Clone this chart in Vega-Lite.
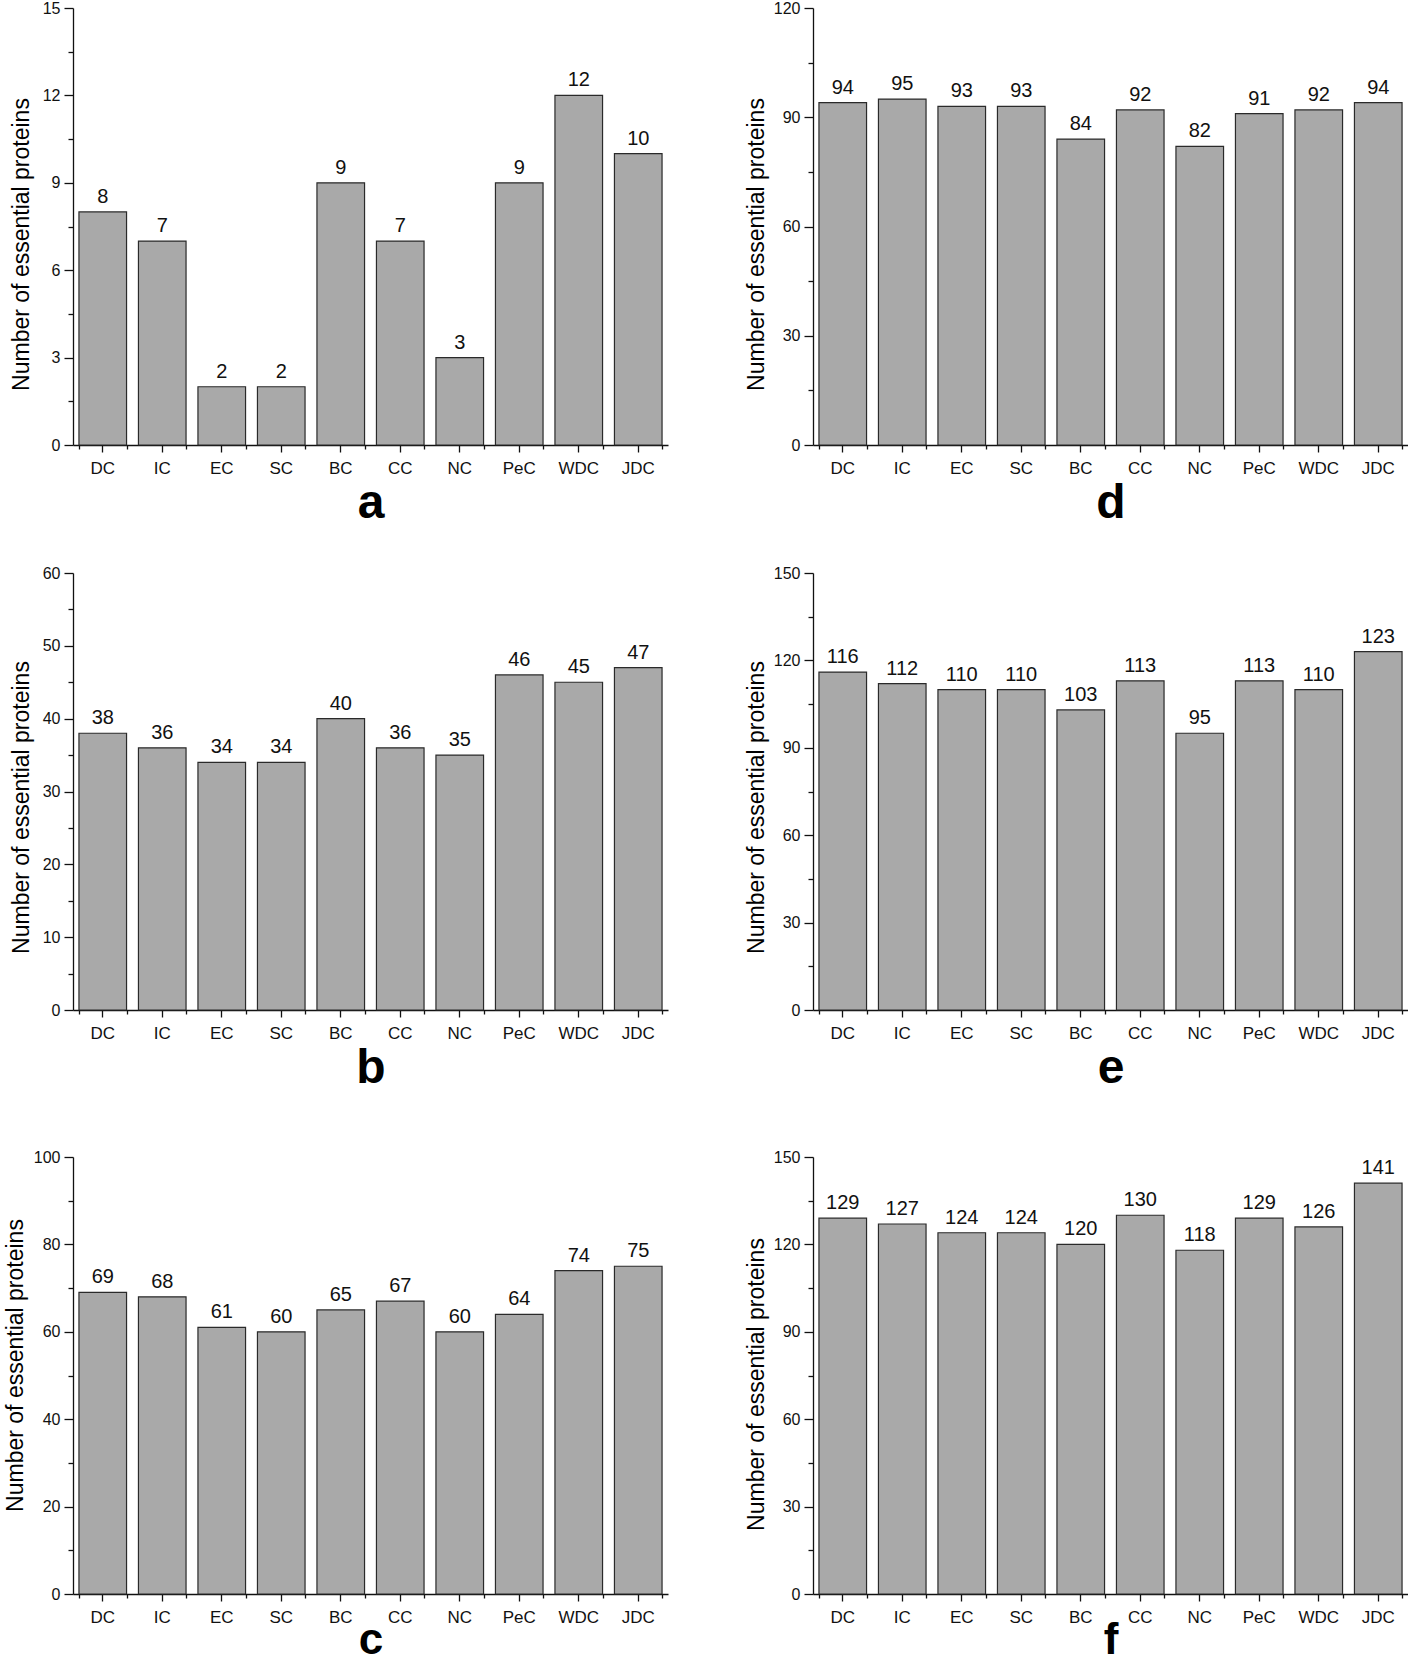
{
  "$schema": "https://vega.github.io/schema/vega-lite/v6.json",
  "padding": {"left": 4, "top": 0, "right": 0, "bottom": 0},
  "datasets": {
    "counts": [
      {"panel": "a", "method": "DC", "count": 8}, {"panel": "a", "method": "IC", "count": 7}, {"panel": "a", "method": "EC", "count": 2}, {"panel": "a", "method": "SC", "count": 2}, {"panel": "a", "method": "BC", "count": 9}, {"panel": "a", "method": "CC", "count": 7}, {"panel": "a", "method": "NC", "count": 3}, {"panel": "a", "method": "PeC", "count": 9}, {"panel": "a", "method": "WDC", "count": 12}, {"panel": "a", "method": "JDC", "count": 10},
      {"panel": "b", "method": "DC", "count": 38}, {"panel": "b", "method": "IC", "count": 36}, {"panel": "b", "method": "EC", "count": 34}, {"panel": "b", "method": "SC", "count": 34}, {"panel": "b", "method": "BC", "count": 40}, {"panel": "b", "method": "CC", "count": 36}, {"panel": "b", "method": "NC", "count": 35}, {"panel": "b", "method": "PeC", "count": 46}, {"panel": "b", "method": "WDC", "count": 45}, {"panel": "b", "method": "JDC", "count": 47},
      {"panel": "c", "method": "DC", "count": 69}, {"panel": "c", "method": "IC", "count": 68}, {"panel": "c", "method": "EC", "count": 61}, {"panel": "c", "method": "SC", "count": 60}, {"panel": "c", "method": "BC", "count": 65}, {"panel": "c", "method": "CC", "count": 67}, {"panel": "c", "method": "NC", "count": 60}, {"panel": "c", "method": "PeC", "count": 64}, {"panel": "c", "method": "WDC", "count": 74}, {"panel": "c", "method": "JDC", "count": 75},
      {"panel": "d", "method": "DC", "count": 94}, {"panel": "d", "method": "IC", "count": 95}, {"panel": "d", "method": "EC", "count": 93}, {"panel": "d", "method": "SC", "count": 93}, {"panel": "d", "method": "BC", "count": 84}, {"panel": "d", "method": "CC", "count": 92}, {"panel": "d", "method": "NC", "count": 82}, {"panel": "d", "method": "PeC", "count": 91}, {"panel": "d", "method": "WDC", "count": 92}, {"panel": "d", "method": "JDC", "count": 94},
      {"panel": "e", "method": "DC", "count": 116}, {"panel": "e", "method": "IC", "count": 112}, {"panel": "e", "method": "EC", "count": 110}, {"panel": "e", "method": "SC", "count": 110}, {"panel": "e", "method": "BC", "count": 103}, {"panel": "e", "method": "CC", "count": 113}, {"panel": "e", "method": "NC", "count": 95}, {"panel": "e", "method": "PeC", "count": 113}, {"panel": "e", "method": "WDC", "count": 110}, {"panel": "e", "method": "JDC", "count": 123},
      {"panel": "f", "method": "DC", "count": 129}, {"panel": "f", "method": "IC", "count": 127}, {"panel": "f", "method": "EC", "count": 124}, {"panel": "f", "method": "SC", "count": 124}, {"panel": "f", "method": "BC", "count": 120}, {"panel": "f", "method": "CC", "count": 130}, {"panel": "f", "method": "NC", "count": 118}, {"panel": "f", "method": "PeC", "count": 129}, {"panel": "f", "method": "WDC", "count": 126}, {"panel": "f", "method": "JDC", "count": 141}
    ]
  },
  "spacing": 57,
  "vconcat": [
    {
      "spacing": 38,
      "vconcat": [
        {
          "spacing": 77,
          "hconcat": [
            {
              "width": 595, "height": 437,
              "data": {"name": "counts"},
              "transform": [{"filter": "datum.panel === 'a'"}],
              "encoding": {
                "y": {"field": "count", "type": "quantitative", "scale": {"domain": [0, 15], "nice": false},
                  "axis": {"title": "Number of essential proteins", "titleX": -40, "titleY": 236, "values": [0, 1.5, 3, 4.5, 6, 7.5, 9, 10.5, 12, 13.5, 15], "labelExpr": "datum.value % 3 === 0 ? datum.label : ''", "tickSize": {"condition": {"test": "datum.value % 3 !== 0", "value": 5}, "value": 9}}}
              },
              "layer": [
                {"mark": {"type": "bar", "fill": "#a9a9a9", "stroke": "#2a2a2a", "strokeWidth": 1.2},
                  "encoding": {"x": {"field": "method", "type": "nominal", "sort": ["DC", "IC", "EC", "SC", "BC", "CC", "NC", "PeC", "WDC", "JDC"], "scale": {"paddingInner": 0.2, "paddingOuter": 0.1}, "axis": {"title": "a", "titlePadding": 3}}}},
                {"mark": {"type": "text", "dy": -9, "baseline": "alphabetic"},
                  "encoding": {"text": {"field": "count", "type": "quantitative"}, "x": {"field": "method", "type": "nominal", "sort": ["DC", "IC", "EC", "SC", "BC", "CC", "NC", "PeC", "WDC", "JDC"], "axis": {"orient": "bottom", "tickBand": "extent", "tickSize": 4, "labels": false, "domain": false, "title": null}}}}
              ],
              "resolve": {"axis": {"x": "independent"}}
            },
            {
              "width": 595, "height": 437,
              "data": {"name": "counts"},
              "transform": [{"filter": "datum.panel === 'd'"}],
              "encoding": {
                "y": {"field": "count", "type": "quantitative", "scale": {"domain": [0, 120], "nice": false},
                  "axis": {"title": "Number of essential proteins", "titleX": -45, "titleY": 236, "values": [0, 15, 30, 45, 60, 75, 90, 105, 120], "labelExpr": "datum.value % 30 === 0 ? datum.label : ''", "tickSize": {"condition": {"test": "datum.value % 30 !== 0", "value": 5}, "value": 9}}}
              },
              "layer": [
                {"mark": {"type": "bar", "fill": "#a9a9a9", "stroke": "#2a2a2a", "strokeWidth": 1.2},
                  "encoding": {"x": {"field": "method", "type": "nominal", "sort": ["DC", "IC", "EC", "SC", "BC", "CC", "NC", "PeC", "WDC", "JDC"], "scale": {"paddingInner": 0.2, "paddingOuter": 0.1}, "axis": {"title": "d", "titlePadding": 3}}}},
                {"mark": {"type": "text", "dy": -9, "baseline": "alphabetic"},
                  "encoding": {"text": {"field": "count", "type": "quantitative"}, "x": {"field": "method", "type": "nominal", "sort": ["DC", "IC", "EC", "SC", "BC", "CC", "NC", "PeC", "WDC", "JDC"], "axis": {"orient": "bottom", "tickBand": "extent", "tickSize": 4, "labels": false, "domain": false, "title": null}}}}
              ],
              "resolve": {"axis": {"x": "independent"}}
            }
          ]
        },
        {
          "spacing": 77,
          "hconcat": [
            {
              "width": 595, "height": 437,
              "data": {"name": "counts"},
              "transform": [{"filter": "datum.panel === 'b'"}],
              "encoding": {
                "y": {"field": "count", "type": "quantitative", "scale": {"domain": [0, 60], "nice": false},
                  "axis": {"title": "Number of essential proteins", "titleX": -40, "titleY": 234, "values": [0, 5, 10, 15, 20, 25, 30, 35, 40, 45, 50, 55, 60], "labelExpr": "datum.value % 10 === 0 ? datum.label : ''", "tickSize": {"condition": {"test": "datum.value % 10 !== 0", "value": 5}, "value": 9}}}
              },
              "layer": [
                {"mark": {"type": "bar", "fill": "#a9a9a9", "stroke": "#2a2a2a", "strokeWidth": 1.2},
                  "encoding": {"x": {"field": "method", "type": "nominal", "sort": ["DC", "IC", "EC", "SC", "BC", "CC", "NC", "PeC", "WDC", "JDC"], "scale": {"paddingInner": 0.2, "paddingOuter": 0.1}, "axis": {"title": "b", "titlePadding": 3}}}},
                {"mark": {"type": "text", "dy": -9, "baseline": "alphabetic"},
                  "encoding": {"text": {"field": "count", "type": "quantitative"}, "x": {"field": "method", "type": "nominal", "sort": ["DC", "IC", "EC", "SC", "BC", "CC", "NC", "PeC", "WDC", "JDC"], "axis": {"orient": "bottom", "tickBand": "extent", "tickSize": 4, "labels": false, "domain": false, "title": null}}}}
              ],
              "resolve": {"axis": {"x": "independent"}}
            },
            {
              "width": 595, "height": 437,
              "data": {"name": "counts"},
              "transform": [{"filter": "datum.panel === 'e'"}],
              "encoding": {
                "y": {"field": "count", "type": "quantitative", "scale": {"domain": [0, 150], "nice": false},
                  "axis": {"title": "Number of essential proteins", "titleX": -45, "titleY": 234, "values": [0, 15, 30, 45, 60, 75, 90, 105, 120, 135, 150], "labelExpr": "datum.value % 30 === 0 ? datum.label : ''", "tickSize": {"condition": {"test": "datum.value % 30 !== 0", "value": 5}, "value": 9}}}
              },
              "layer": [
                {"mark": {"type": "bar", "fill": "#a9a9a9", "stroke": "#2a2a2a", "strokeWidth": 1.2},
                  "encoding": {"x": {"field": "method", "type": "nominal", "sort": ["DC", "IC", "EC", "SC", "BC", "CC", "NC", "PeC", "WDC", "JDC"], "scale": {"paddingInner": 0.2, "paddingOuter": 0.1}, "axis": {"title": "e", "titlePadding": 3}}}},
                {"mark": {"type": "text", "dy": -9, "baseline": "alphabetic"},
                  "encoding": {"text": {"field": "count", "type": "quantitative"}, "x": {"field": "method", "type": "nominal", "sort": ["DC", "IC", "EC", "SC", "BC", "CC", "NC", "PeC", "WDC", "JDC"], "axis": {"orient": "bottom", "tickBand": "extent", "tickSize": 4, "labels": false, "domain": false, "title": null}}}}
              ],
              "resolve": {"axis": {"x": "independent"}}
            }
          ]
        }
      ]
    },
    {
      "spacing": 77,
      "hconcat": [
        {
          "width": 595, "height": 437,
          "data": {"name": "counts"},
          "transform": [{"filter": "datum.panel === 'c'"}],
          "encoding": {
            "y": {"field": "count", "type": "quantitative", "scale": {"domain": [0, 100], "nice": false},
              "axis": {"title": "Number of essential proteins", "titleX": -46, "titleY": 208, "values": [0, 10, 20, 30, 40, 50, 60, 70, 80, 90, 100], "labelExpr": "datum.value % 20 === 0 ? datum.label : ''", "tickSize": {"condition": {"test": "datum.value % 20 !== 0", "value": 5}, "value": 9}}}
          },
          "layer": [
            {"mark": {"type": "bar", "fill": "#a9a9a9", "stroke": "#2a2a2a", "strokeWidth": 1.2},
              "encoding": {"x": {"field": "method", "type": "nominal", "sort": ["DC", "IC", "EC", "SC", "BC", "CC", "NC", "PeC", "WDC", "JDC"], "scale": {"paddingInner": 0.2, "paddingOuter": 0.1}, "axis": {"title": "c", "titlePadding": -7, "titleFontSize": 44}}}},
            {"mark": {"type": "text", "dy": -9, "baseline": "alphabetic"},
              "encoding": {"text": {"field": "count", "type": "quantitative"}, "x": {"field": "method", "type": "nominal", "sort": ["DC", "IC", "EC", "SC", "BC", "CC", "NC", "PeC", "WDC", "JDC"], "axis": {"orient": "bottom", "tickBand": "extent", "tickSize": 4, "labels": false, "domain": false, "title": null}}}}
          ],
          "resolve": {"axis": {"x": "independent"}}
        },
        {
          "width": 595, "height": 437,
          "data": {"name": "counts"},
          "transform": [{"filter": "datum.panel === 'f'"}],
          "encoding": {
            "y": {"field": "count", "type": "quantitative", "scale": {"domain": [0, 150], "nice": false},
              "axis": {"title": "Number of essential proteins", "titleX": -45, "titleY": 227, "values": [0, 15, 30, 45, 60, 75, 90, 105, 120, 135, 150], "labelExpr": "datum.value % 30 === 0 ? datum.label : ''", "tickSize": {"condition": {"test": "datum.value % 30 !== 0", "value": 5}, "value": 9}}}
          },
          "layer": [
            {"mark": {"type": "bar", "fill": "#a9a9a9", "stroke": "#2a2a2a", "strokeWidth": 1.2},
              "encoding": {"x": {"field": "method", "type": "nominal", "sort": ["DC", "IC", "EC", "SC", "BC", "CC", "NC", "PeC", "WDC", "JDC"], "scale": {"paddingInner": 0.2, "paddingOuter": 0.1}, "axis": {"title": "f", "titlePadding": -7, "titleFontSize": 44}}}},
            {"mark": {"type": "text", "dy": -9, "baseline": "alphabetic"},
              "encoding": {"text": {"field": "count", "type": "quantitative"}, "x": {"field": "method", "type": "nominal", "sort": ["DC", "IC", "EC", "SC", "BC", "CC", "NC", "PeC", "WDC", "JDC"], "axis": {"orient": "bottom", "tickBand": "extent", "tickSize": 4, "labels": false, "domain": false, "title": null}}}}
          ],
          "resolve": {"axis": {"x": "independent"}}
        }
      ]
    }
  ],
  "config": {
    "font": "Liberation Sans",
    "view": {"stroke": null},
    "axis": {"domainColor": "#111", "tickColor": "#111", "domainWidth": 1.3, "tickWidth": 1.3, "labelColor": "#111", "titleColor": "#000", "labelFont": "Liberation Sans", "titleFont": "Liberation Sans", "grid": false, "labelOverlap": false},
    "axisY": {"labelFontSize": 16, "labelPadding": 4, "titleFontSize": 23, "titleFontWeight": "normal"},
    "axisX": {"labelFontSize": 17, "labelAngle": 0, "tickSize": 7, "labelPadding": 8, "titleFontSize": 48, "titleFontWeight": "bold"},
    "text": {"font": "Liberation Sans", "fontSize": 20, "color": "#111"}
  }
}
